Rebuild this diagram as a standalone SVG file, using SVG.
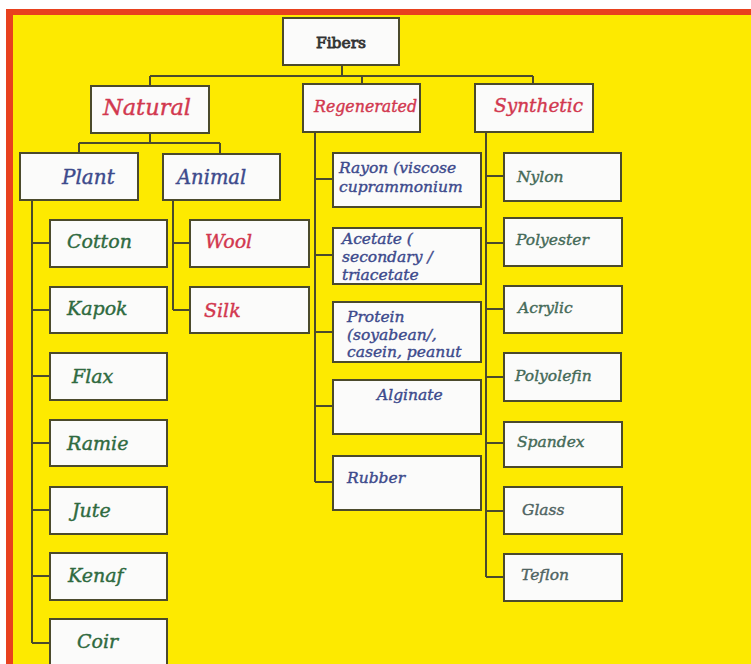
<svg xmlns="http://www.w3.org/2000/svg" width="751" height="664" viewBox="0 0 751 664">
<style>
.box{fill:#fbfbfa;stroke:#4b4a2c;stroke-width:2}
.ln{fill:none;stroke:#4b4a2c;stroke-width:2}
text{font-family:"DejaVu Serif","Liberation Serif",serif;font-style:italic;stroke-width:0.4}
.top{font-style:normal;font-size:15.5px;fill:#333333;stroke:#333333;stroke-width:0.8}
.red{fill:#d2384f;stroke:#d2384f}
.blue{fill:#3d4a8c;stroke:#3d4a8c}
.grn{fill:#2f6a40;stroke:#2f6a40}
.syn{fill:#456a58;stroke:#456a58}
.gry{fill:#4f6462;stroke:#4f6462}
.k{font-size:19px}
.s{font-size:15.5px}
.r{font-size:15.5px}
</style>
<rect x="0" y="0" width="751" height="664" fill="#ffffff"/>
<rect x="6" y="9" width="745" height="655" fill="#e8411e"/>
<rect x="13" y="15" width="738" height="649" fill="#fdea00"/>
<g id="connectors" class="ln">
<path d="M342 65V76M150 76H533M150 76V86M362 76V84M533 76V84"/>
<path d="M150 133V143M79 143H220M79 143V153M220 143V154"/>
<path d="M32 200V643M32 243H50M32 310H50M32 376H50M32 443H50M32 510H50M32 576H50M32 643H50"/>
<path d="M173 200V310M173 243H190M173 310H190"/>
<path d="M315 132V482M315 179H333M315 255H333M315 332H333M315 406H333M315 482H333"/>
<path d="M486 132V577M486 176H504M486 243H504M486 309H504M486 377H504M486 443H504M486 511H504M486 577H504"/>
</g>
<g id="fibers"><rect class="box" x="283" y="18" width="116" height="47"/><text class="top" x="341" y="48" text-anchor="middle">Fibers</text></g>
<g id="natural"><rect class="box" x="91" y="86" width="118" height="47"/><text class="red" x="103" y="115" font-size="22.5">Natural</text></g>
<g id="regenerated"><rect class="box" x="303" y="84" width="117" height="48"/><text class="red" x="314" y="112" font-size="15.8">Regenerated</text></g>
<g id="synthetic"><rect class="box" x="475" y="84" width="118" height="48"/><text class="red" x="494" y="112" font-size="18.5">Synthetic</text></g>
<g id="plant"><rect class="box" x="20" y="153" width="118" height="47"/><text class="blue" x="62" y="184" font-size="20">Plant</text></g>
<g id="animal"><rect class="box" x="163" y="154" width="117" height="46"/><text class="blue" x="177" y="184" font-size="19.5">Animal</text></g>
<g id="cotton"><rect class="box" x="50" y="220" width="117" height="47"/><text class="grn k" x="67" y="248">Cotton</text></g>
<g id="kapok"><rect class="box" x="50" y="287" width="117" height="46"/><text class="grn k" x="67" y="315">Kapok</text></g>
<g id="flax"><rect class="box" x="50" y="353" width="117" height="47"/><text class="grn k" x="72" y="383">Flax</text></g>
<g id="ramie"><rect class="box" x="50" y="420" width="117" height="46"/><text class="grn k" x="67" y="450">Ramie</text></g>
<g id="jute"><rect class="box" x="50" y="487" width="117" height="47"/><text class="grn k" x="72" y="517">Jute</text></g>
<g id="kenaf"><rect class="box" x="50" y="553" width="117" height="47"/><text class="grn k" x="68" y="582">Kenaf</text></g>
<g id="coir"><rect class="box" x="50" y="619" width="117" height="50"/><text class="grn k" x="77" y="648">Coir</text></g>
<g id="wool"><rect class="box" x="190" y="220" width="119" height="47"/><text class="red k" x="205" y="248">Wool</text></g>
<g id="silk"><rect class="box" x="190" y="287" width="119" height="46"/><text class="red k" x="204" y="317">Silk</text></g>
<g id="rayon"><rect class="box" x="333" y="153" width="148" height="54"/><text class="blue r"><tspan x="339" y="173">Rayon (viscose</tspan><tspan x="339" y="192">cuprammonium</tspan></text></g>
<g id="acetate"><rect class="box" x="333" y="228" width="148" height="56"/><text class="blue r"><tspan x="342" y="244">Acetate (</tspan><tspan x="342" y="262">secondary /</tspan><tspan x="342" y="280">triacetate</tspan></text></g>
<g id="protein"><rect class="box" x="333" y="302" width="148" height="60"/><text class="blue r"><tspan x="347" y="322">Protein</tspan><tspan x="347" y="340">(soyabean/,</tspan><tspan x="347" y="357">casein, peanut</tspan></text></g>
<g id="alginate"><rect class="box" x="333" y="380" width="148" height="54"/><text class="blue r" x="377" y="400">Alginate</text></g>
<g id="rubber"><rect class="box" x="333" y="456" width="148" height="54"/><text class="blue r" x="347" y="483">Rubber</text></g>
<g id="nylon"><rect class="box" x="504" y="153" width="117" height="48"/><text class="syn s" x="517" y="182">Nylon</text></g>
<g id="polyester"><rect class="box" x="504" y="218" width="118" height="48"/><text class="syn s" x="516" y="245">Polyester</text></g>
<g id="acrylic"><rect class="box" x="504" y="286" width="118" height="47"/><text class="syn s" x="518" y="313">Acrylic</text></g>
<g id="polyolefin"><rect class="box" x="504" y="353" width="117" height="48"/><text class="syn s" x="515" y="381">Polyolefin</text></g>
<g id="spandex"><rect class="box" x="504" y="422" width="118" height="45"/><text class="syn s" x="517" y="447">Spandex</text></g>
<g id="glass"><rect class="box" x="504" y="487" width="118" height="47"/><text class="gry s" x="522" y="515">Glass</text></g>
<g id="teflon"><rect class="box" x="504" y="554" width="118" height="47"/><text class="gry s" x="521" y="580">Teflon</text></g>
</svg>
